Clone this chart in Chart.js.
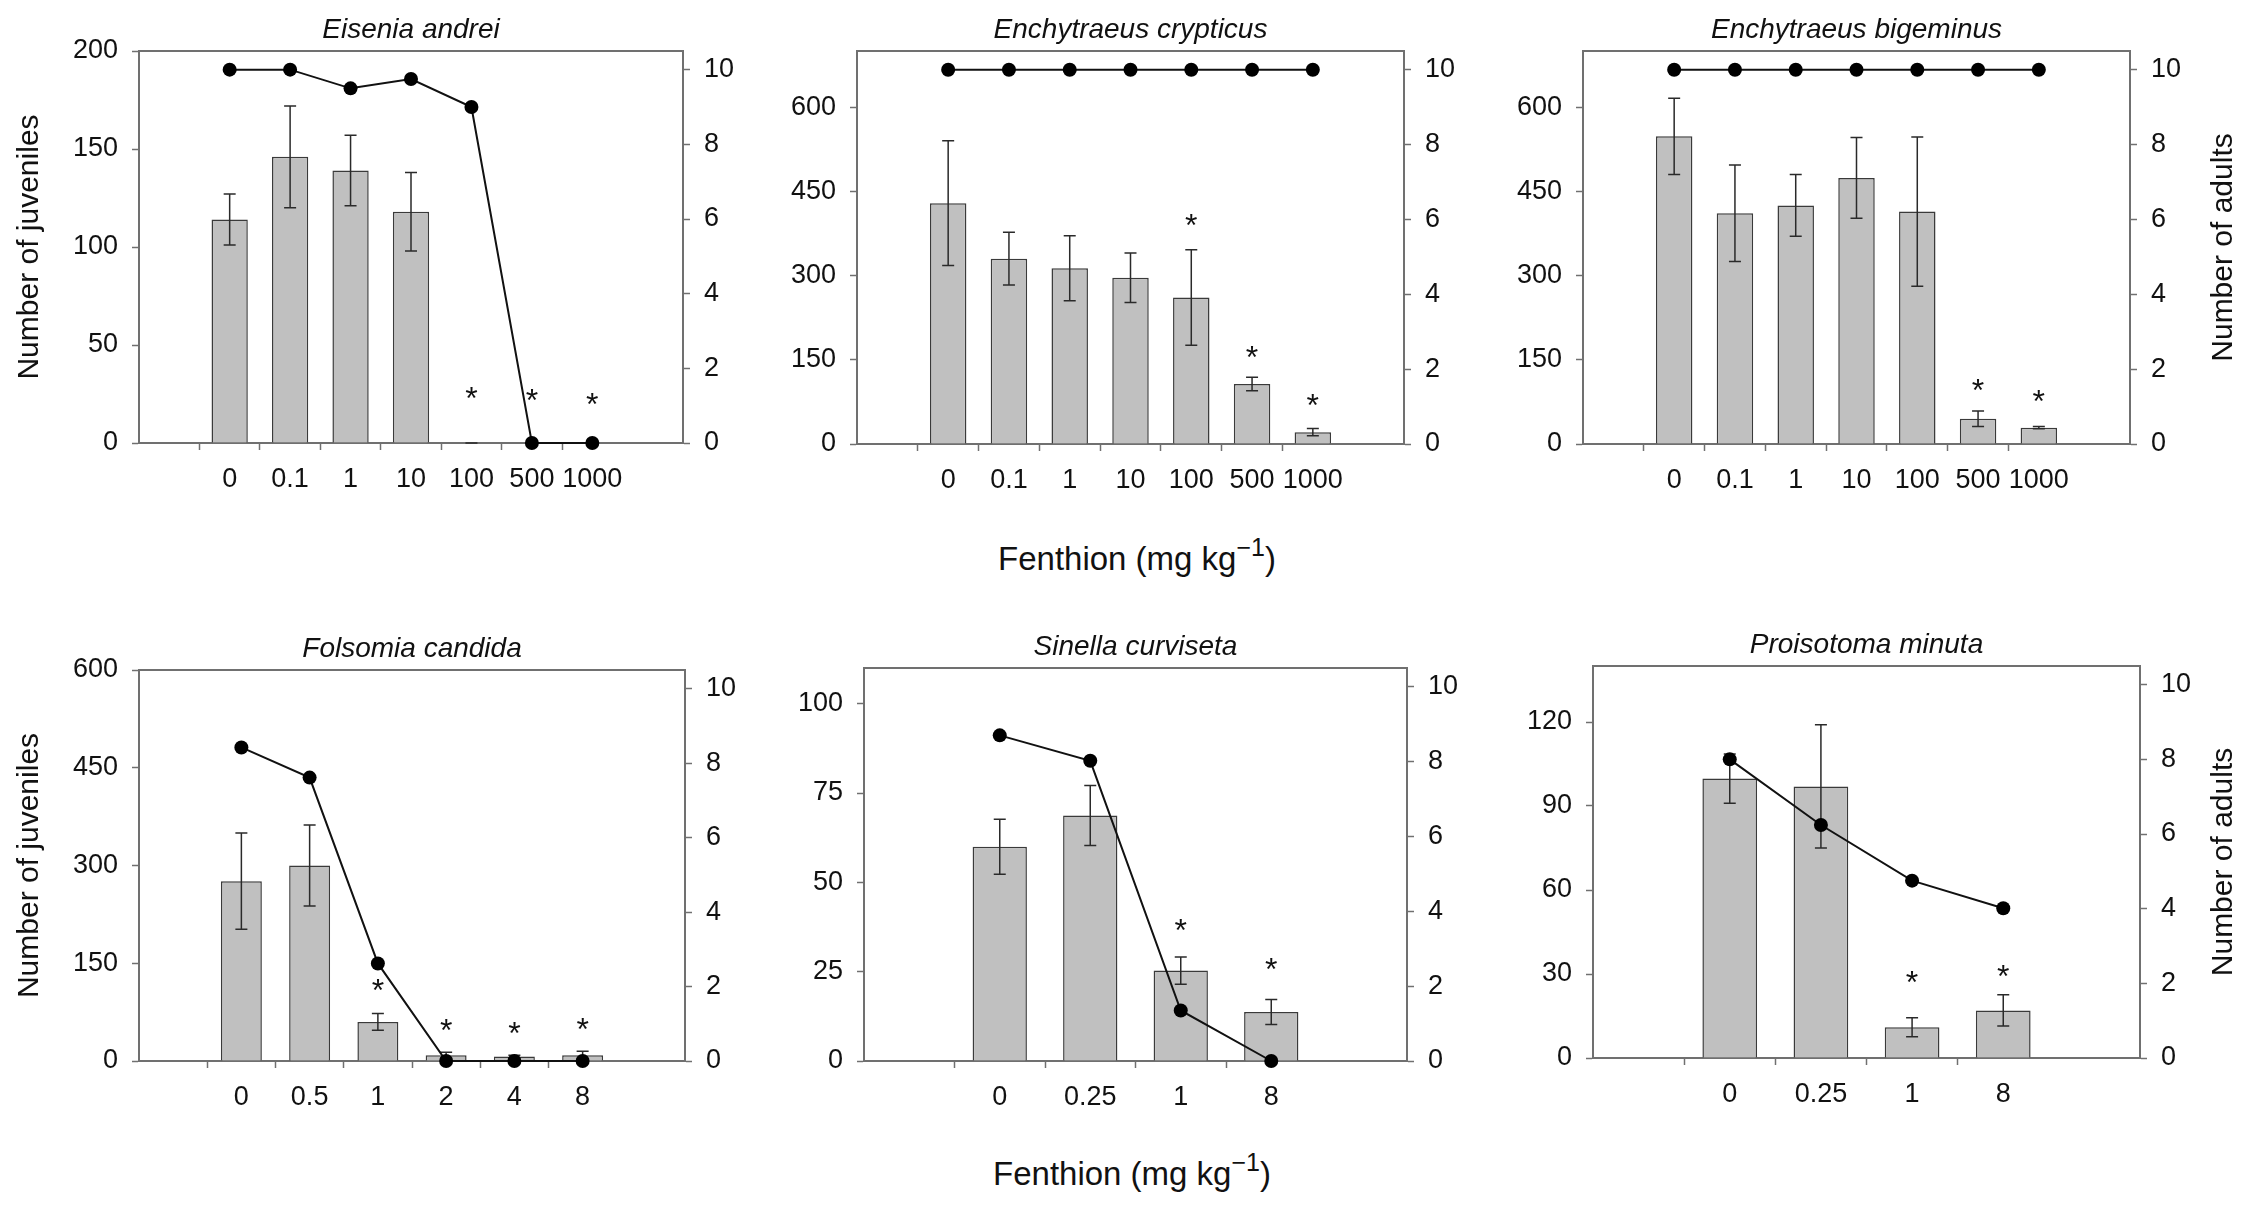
<!DOCTYPE html>
<html>
<head>
<meta charset="utf-8">
<script src="https://cdn.jsdelivr.net/npm/chart.js@4.4.1/dist/chart.umd.min.js"></script>
<style>
  html, body { margin: 0; padding: 0; background: #fff; }
  body { width: 2242px; height: 1211px; position: relative; overflow: hidden;
         font-family: "Liberation Sans", Arial, sans-serif; }
  canvas { position: absolute; }
  .xlab { position: absolute; width: 600px; text-align: center; font-size: 33px;
          line-height: 40px; color: #111; white-space: nowrap; }
  .xlab span { font-size: 25px; position: relative; top: -14px; }
</style>
</head>
<body>
<div class="xlab" style="left:837px; top:539px">Fenthion (mg kg<span>−1</span>)</div>
<div class="xlab" style="left:832px; top:1154px">Fenthion (mg kg<span>−1</span>)</div>
<script>
// concentrations (x categories)
const concWorms = ['0', '0.1', '1', '10', '100', '500', '1000'];
const concFolsomia = ['0', '0.5', '1', '2', '4', '8'];
const concSpring = ['0', '0.25', '1', '8'];

// Eisenia andrei
const juvEA = [114, 146, 139, 118, 0, 0, 0];
const seEA = [13, 26, 18, 20, 0, 0, 0];
const adEA = [10, 10, 9.5, 9.75, 9, 0, 0];
const sigEA = [null, null, null, null, 27, 26, 24];

// Enchytraeus crypticus
const juvEC = [429, 330, 313, 296, 261, 107, 21];
const seEC = [111, 47, 58, 44, 85, 12, 6.5];
const adEC = [10, 10, 10, 10, 10, 10, 10];
const sigEC = [null, null, null, null, 404, 169, 83];

// Enchytraeus bigeminus
const juvEB = [548, 411, 425, 474, 414, 45, 29];
const seEB = [68, 86, 55, 72, 133, 14, 2];
const adEB = [10, 10, 10, 10, 10, 10, 10];
const sigEB = [null, null, null, null, null, 110, 91];

// Folsomia candida
const juvFC = [276, 300, 60, 9, 7, 9];
const seFC = [74, 62, 13, 4.3, 2, 6];
const adFC = [8.42, 7.61, 2.62, 0, 0, 0];
const sigFC = [null, null, 121, 60, 55, 62];

// Sinella curviseta
const juvSC = [60, 68.7, 25.3, 13.7];
const seSC = [7.7, 8.4, 3.8, 3.5];
const adSC = [8.7, 8.02, 1.35, 0];
const sigSC = [null, null, 39, 28];

// Proisotoma minuta
const juvPM = [99.8, 97, 11, 17];
const sePM = [8.8, 22, 3.4, 5.6];
const adPM = [8.0, 6.24, 4.75, 4.01];
const sigPM = [null, null, 30, 32];

const FONT = '"Liberation Sans", Arial, sans-serif';
const axisCol = '#707070';
const textCol = '#111';

const panels = [
  { title: 'Eisenia andrei', cats: concWorms, juv: juvEA, se: seEA, ad: adEA, sig: sigEA,
    yMax: 200, yStep: 50, L: 139, R: 683, T: 51, B: 443, leftTitle: true, rightTitle: false },
  { title: 'Enchytraeus crypticus', cats: concWorms, juv: juvEC, se: seEC, ad: adEC, sig: sigEC,
    yMax: 700, yStep: 150, L: 857, R: 1404, T: 51, B: 444, leftTitle: false, rightTitle: false },
  { title: 'Enchytraeus bigeminus', cats: concWorms, juv: juvEB, se: seEB, ad: adEB, sig: sigEB,
    yMax: 700, yStep: 150, L: 1583, R: 2130, T: 51, B: 444, leftTitle: false, rightTitle: true },
  { title: 'Folsomia candida', cats: concFolsomia, juv: juvFC, se: seFC, ad: adFC, sig: sigFC,
    yMax: 600, yStep: 150, L: 139, R: 685, T: 670, B: 1061, leftTitle: true, rightTitle: false },
  { title: 'Sinella curviseta', cats: concSpring, juv: juvSC, se: seSC, ad: adSC, sig: sigSC,
    yMax: 110, yStep: 25, L: 864, R: 1407, T: 668, B: 1061, leftTitle: false, rightTitle: false },
  { title: 'Proisotoma minuta', cats: concSpring, juv: juvPM, se: sePM, ad: adPM, sig: sigPM,
    yMax: 140, yStep: 30, L: 1593, R: 2140, T: 666, B: 1058, leftTitle: false, rightTitle: true }
];

// error bars, asterisks, panel titles and the right-hand axis title
const marksPlugin = {
  id: 'marks',
  afterDatasetDraw(chart, args, opts) {
    if (args.index !== 0) return;
    const ctx = chart.ctx;
    const xs = chart.scales.x, ys = chart.scales.y;
    ctx.save();
    ctx.strokeStyle = '#2a2a2a';
    ctx.lineWidth = 1.5;
    opts.se.forEach((e, i) => {
      const v = opts.juv[i];
      const px = xs.getPixelForValue(i);
      const top = ys.getPixelForValue(v + e);
      const bot = ys.getPixelForValue(Math.max(v - e, 0));
      ctx.beginPath();
      ctx.moveTo(px, top); ctx.lineTo(px, bot);
      ctx.moveTo(px - 6, top); ctx.lineTo(px + 6, top);
      ctx.moveTo(px - 6, bot); ctx.lineTo(px + 6, bot);
      ctx.stroke();
    });
    ctx.restore();
  },
  afterDraw(chart, args, opts) {
    const ctx = chart.ctx;
    const ca = chart.chartArea;
    const xs = chart.scales.x, ys = chart.scales.y;
    ctx.save();
    ctx.fillStyle = textCol;
    ctx.textAlign = 'center';
    ctx.textBaseline = 'alphabetic';
    ctx.font = 'italic 28px ' + FONT;
    ctx.fillText(opts.title, (ca.left + ca.right) / 2, ca.top - 13);

    ctx.font = '32px ' + FONT;
    opts.sig.forEach((s, i) => {
      if (s === null) return;
      ctx.fillText('*', xs.getPixelForValue(i), ys.getPixelForValue(s) + 19);
    });

    if (opts.rightTitle) {
      ctx.font = '30px ' + FONT;
      ctx.translate(chart.width - 18, (ca.top + ca.bottom) / 2);
      ctx.rotate(-Math.PI / 2);
      ctx.textBaseline = 'middle';
      ctx.fillText('Number of adults', 0, 0);
    }
    ctx.restore();
  }
};

panels.forEach(p => {
  const leftW = 130;
  const rightW = p.rightTitle ? 2242 - p.R : 80;
  const topPad = 60, bottomH = 70;
  const n = p.cats.length;

  const canvas = document.createElement('canvas');
  const w = leftW + (p.R - p.L) + rightW;
  const h = topPad + (p.B - p.T) + bottomH;
  canvas.width = w;
  canvas.height = h;
  canvas.style.left = (p.L - leftW) + 'px';
  canvas.style.top = (p.T - topPad) + 'px';
  document.body.appendChild(canvas);

  const tickFont = { family: FONT, size: 27 };
  const hidden = 'rgba(0,0,0,0)';

  new Chart(canvas.getContext('2d'), {
    type: 'bar',
    data: {
      datasets: [
        {
          type: 'bar',
          data: p.cats.map((c, i) => ({ x: i, y: p.juv[i] })),
          backgroundColor: '#c0c0c0',
          borderColor: '#3a3a3a',
          borderWidth: 1.5,
          borderSkipped: 'bottom',
          categoryPercentage: 1,
          barPercentage: 0.6,
          yAxisID: 'y',
          order: 1
        },
        {
          type: 'line',
          data: p.cats.map((c, i) => ({ x: i, y: p.ad[i] })),
          borderColor: '#111',
          borderWidth: 2,
          pointRadius: 7,
          pointBackgroundColor: '#000',
          pointBorderColor: '#000',
          pointBorderWidth: 0,
          tension: 0,
          clip: false,
          yAxisID: 'y1',
          order: 0
        }
      ]
    },
    options: {
      responsive: false,
      animation: false,
      devicePixelRatio: 1,
      layout: { padding: { top: topPad, left: 0, right: 0, bottom: 0 } },
      plugins: {
        legend: { display: false },
        tooltip: { enabled: false },
        marks: { title: p.title, juv: p.juv, se: p.se, sig: p.sig, rightTitle: p.rightTitle }
      },
      scales: {
        x: {
          type: 'linear',
          min: -1,
          max: n,
          afterFit: s => { s.height = bottomH; },
          ticks: {
            stepSize: 1,
            autoSkip: false,
            maxRotation: 0,
            padding: 13,
            font: tickFont,
            color: textCol,
            callback: v => p.cats[v] ?? ''
          },
          grid: {
            drawOnChartArea: false,
            tickLength: 7,
            tickWidth: 1.5,
            tickColor: c => (c.tick && c.tick.value >= 0 && c.tick.value < n) ? axisCol : hidden
          },
          border: { display: true, color: axisCol, width: 2 }
        },
        xTop: {
          type: 'linear',
          position: 'top',
          afterFit: s => { s.height = 0; },
          ticks: { display: false },
          grid: { display: false, drawTicks: false },
          border: { display: true, color: axisCol, width: 2 }
        },
        y: {
          position: 'left',
          min: 0,
          max: p.yMax,
          afterFit: s => { s.width = leftW; },
          ticks: { stepSize: p.yStep, includeBounds: false, padding: 14, font: tickFont, color: textCol },
          grid: { drawOnChartArea: false, tickLength: 7, tickWidth: 1.5, tickColor: axisCol },
          border: { display: true, color: axisCol, width: 2 },
          title: {
            display: p.leftTitle,
            text: 'Number of juveniles',
            font: { family: FONT, size: 30 },
            color: textCol,
            padding: { top: 3, bottom: 0 }
          }
        },
        y1: {
          position: 'right',
          min: 0,
          max: 10.5,
          afterFit: s => { s.width = rightW; },
          ticks: { stepSize: 2, includeBounds: false, padding: 14, font: tickFont, color: textCol },
          grid: { drawOnChartArea: false, tickLength: 7, tickWidth: 1.5, tickColor: axisCol },
          border: { display: true, color: axisCol, width: 2 }
        }
      }
    },
    plugins: [marksPlugin]
  });
});
</script>
</body>
</html>
